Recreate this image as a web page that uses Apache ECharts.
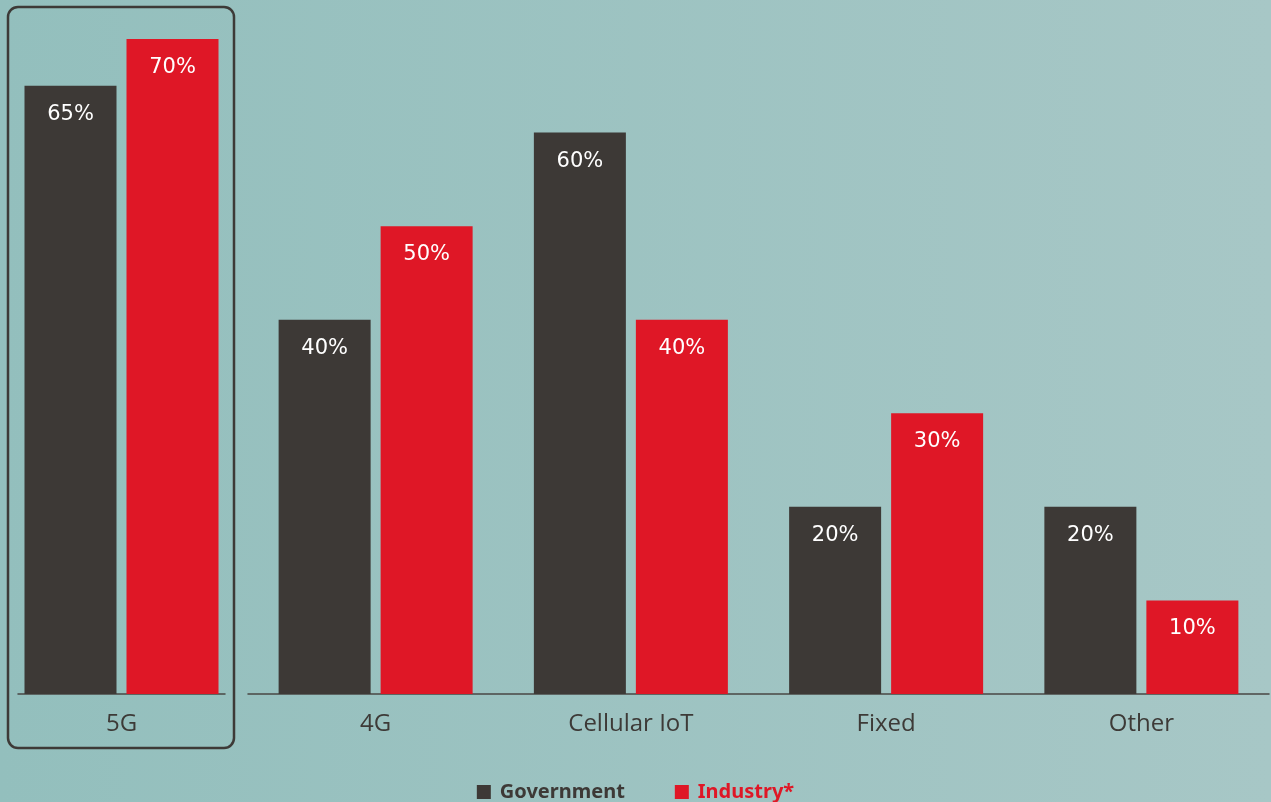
<!DOCTYPE html>
<html>
<head>
<meta charset="utf-8">
<script src="https://cdn.jsdelivr.net/npm/echarts@6/dist/echarts.min.js"></script>
<style>
html,body{margin:0;padding:0;width:1271px;height:802px;overflow:hidden;background:linear-gradient(90deg,#93bfbd 0%,#a7c7c6 100%);}
#c{width:1271px;height:802px;}
</style>
</head>
<body>
<div id="c"></div>
<script>
const categories = ['5G', '4G', 'Cellular IoT', 'Fixed', 'Other'];
const government = [65, 40, 60, 20, 20];
const industry = [70, 50, 40, 30, 10];
const seriesNames = ['Government', 'Industry*'];
const colors = { gov: '#3d3936', ind: '#df1726', text: '#3d3a37' };

const chart = echarts.init(document.getElementById('c'));
const labelCfg = {
  show: true,
  position: 'insideTop',
  distance: 18,
  color: '#ffffff',
  fontFamily: 'DejaVu Sans',
  fontSize: 21,
  formatter: p => p.value + '%'
};
function xAx(gi, cats) {
  return {
    type: 'category', gridIndex: gi, data: cats,
    axisLine: { show: true, lineStyle: { color: '#4a4744', width: 1.5 } },
    axisTick: { show: false },
    axisLabel: { color: colors.text, fontSize: 24, fontFamily: 'Open Sans', margin: 18 }
  };
}
function yAx(gi) {
  return { type: 'value', gridIndex: gi, min: 0, max: 70, show: false, splitLine: { show: false } };
}
function bar(name, gi, data, color) {
  return {
    name: name, type: 'bar', xAxisIndex: gi, yAxisIndex: gi, data: data,
    barWidth: 92, barGap: '10.87%',
    itemStyle: { color: color },
    label: labelCfg
  };
}
chart.setOption({
  animation: false,
  backgroundColor: 'transparent',
  grid: [
    { left: 18, width: 207, top: 39, bottom: 108 },
    { left: 248, right: 2, top: 39, bottom: 108 }
  ],
  xAxis: [xAx(0, categories.slice(0, 1)), xAx(1, categories.slice(1))],
  yAxis: [yAx(0), yAx(1)],
  legend: {
    top: 777, left: 'center', itemWidth: 14, itemHeight: 14, itemGap: 50,
    icon: 'rect',
    textStyle: { fontSize: 20, fontWeight: 'bold', fontFamily: 'Noto Sans', padding: [0, 0, 0, 4] },
    data: [
      { name: seriesNames[0], textStyle: { color: colors.gov } },
      { name: seriesNames[1], textStyle: { color: colors.ind } }
    ]
  },
  graphic: [{
    type: 'rect', silent: true,
    shape: { x: 8, y: 7, width: 226, height: 741, r: 10 },
    style: { fill: 'none', stroke: '#3d3a37', lineWidth: 2.5 }
  }],
  series: [
    bar(seriesNames[0], 0, government.slice(0, 1), colors.gov),
    bar(seriesNames[1], 0, industry.slice(0, 1), colors.ind),
    bar(seriesNames[0], 1, government.slice(1), colors.gov),
    bar(seriesNames[1], 1, industry.slice(1), colors.ind)
  ]
});
</script>
</body>
</html>
